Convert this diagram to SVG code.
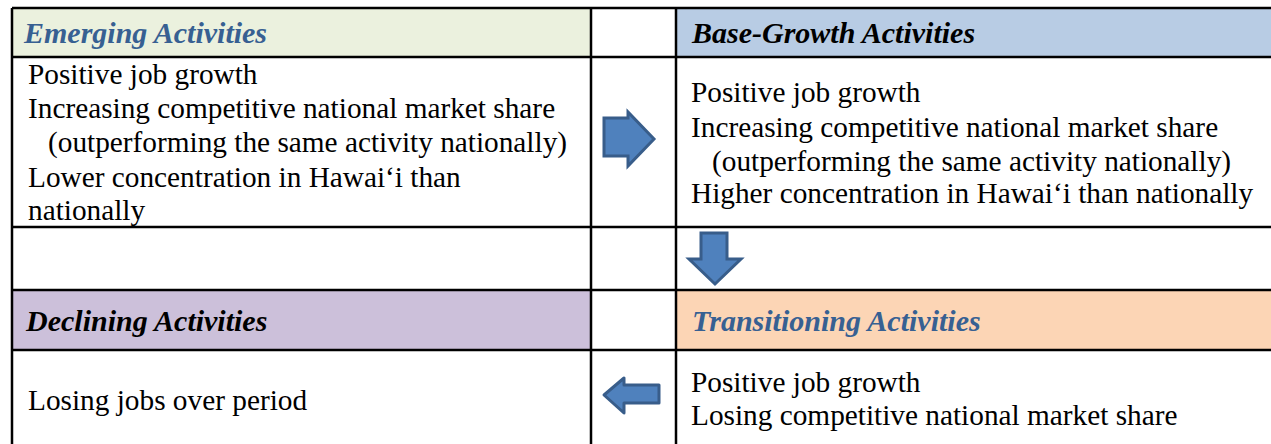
<svg xmlns="http://www.w3.org/2000/svg" width="1271" height="444" viewBox="0 0 1271 444">
<style>
.t{font-family:"Liberation Serif","Times New Roman",serif;font-size:29.3px;fill:#000}
.h{font-family:"Liberation Serif","Times New Roman",serif;font-size:30px;font-weight:bold;font-style:italic}
.blue{fill:#376092}
.blk{fill:#000}
.grid{stroke:#000;stroke-width:2.5;fill:none}
.arr{fill:#4F81BD;stroke:#385D8A;stroke-width:3;stroke-linejoin:miter}
</style>
<rect x="0" y="0" width="1271" height="444" fill="#fff"/>
<g id="emerging">
<rect x="12" y="8" width="579" height="49" fill="#EBF1DE"/>
<text class="h blue" x="24" y="43">Emerging Activities</text>
<text class="t" x="28" y="84">Positive job growth</text>
<text class="t" x="28" y="117.5">Increasing competitive national market share</text>
<text class="t" x="48" y="151.5">(outperforming the same activity nationally)</text>
<text class="t" x="28" y="187">Lower concentration in Hawai‘i than</text>
<text class="t" x="28" y="219.5">nationally</text>
</g>
<g id="base-growth">
<rect x="676" y="8" width="600" height="49" fill="#B8CCE4"/>
<text class="h blk" x="692" y="43">Base-Growth Activities</text>
<text class="t" x="691" y="102">Positive job growth</text>
<text class="t" x="691" y="137">Increasing competitive national market share</text>
<text class="t" x="712" y="171">(outperforming the same activity nationally)</text>
<text class="t" x="691" y="203">Higher concentration in Hawai‘i than nationally</text>
</g>
<g id="declining">
<rect x="12" y="290" width="579" height="60" fill="#CCC0DA"/>
<text class="h blk" x="26" y="331">Declining Activities</text>
<text class="t" x="28" y="409.5">Losing jobs over period</text>
</g>
<g id="transitioning">
<rect x="676" y="290" width="600" height="60" fill="#FCD5B5"/>
<text class="h blue" x="692" y="331">Transitioning Activities</text>
<text class="t" x="691" y="392">Positive job growth</text>
<text class="t" x="691" y="425">Losing competitive national market share</text>
</g>
<g id="grid" class="grid">
<line x1="12" y1="8" x2="1271" y2="8"/>
<line x1="12" y1="57" x2="1271" y2="57"/>
<line x1="12" y1="227" x2="1271" y2="227"/>
<line x1="12" y1="290" x2="1271" y2="290"/>
<line x1="12" y1="350" x2="1271" y2="350"/>
<line x1="12" y1="8" x2="12" y2="444"/>
<line x1="591" y1="8" x2="591" y2="444"/>
<line x1="676" y1="8" x2="676" y2="444"/>
</g>
<g id="connectors">
<polygon class="arr" points="604,118 628,118 628,112 654,139 628,166 628,156 604,156"/>
<polygon class="arr" points="701,233 727,233 727,259 741,259 715,284 689,259 701,259"/>
<polygon class="arr" style="stroke-linejoin:round" points="604,395 624,378 624,385 659,385 659,403 624,403 624,413"/>
</g>
</svg>
